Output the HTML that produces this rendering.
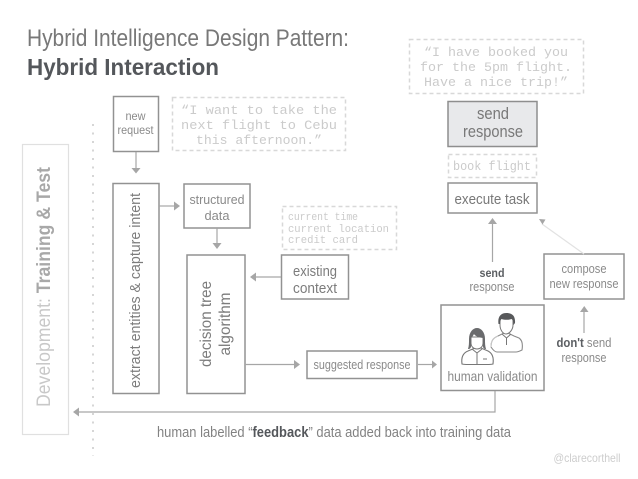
<!DOCTYPE html>
<html><head><meta charset="utf-8"><style>
html,body{margin:0;padding:0;background:#fff;width:638px;height:479px;overflow:hidden}
svg{display:block}
text{font-family:"Liberation Sans",sans-serif;fill:#8a8a8a;text-anchor:middle}
.m{font-family:"Liberation Mono",monospace;fill:#cbcbcb}
.b{fill:none;stroke:#929292;stroke-width:1.5}
.d{fill:none;stroke:#d8d8d8;stroke-width:1.5;stroke-dasharray:4 3}
.l{fill:none;stroke:#a6a6a6;stroke-width:1.2}
.a{fill:#a6a6a6}
</style></head><body>
<svg width="638" height="479" viewBox="0 0 638 479" xmlns="http://www.w3.org/2000/svg">
<text x="27" y="46" font-size="24" textLength="322" lengthAdjust="spacingAndGlyphs" style="text-anchor:start;fill:#787878">Hybrid Intelligence Design Pattern:</text>
<text x="27" y="75" font-size="23" font-weight="bold" textLength="192" lengthAdjust="spacingAndGlyphs" style="text-anchor:start;fill:#54575b">Hybrid Interaction</text>

<rect x="22.500" y="144.500" width="46" height="290" fill="none" stroke="#e0e0e0" stroke-width="1.2"/>
<text transform="translate(50,407) rotate(-90)" font-size="19" textLength="240" lengthAdjust="spacingAndGlyphs" style="text-anchor:start;fill:#c8c8c8">Development: <tspan font-weight="bold" fill="#a8a8a8">Training &amp; Test</tspan></text>
<line x1="93" y1="124" x2="93" y2="456" stroke="#d6d6d6" stroke-width="2" stroke-dasharray="2 6.500"/>

<rect class="b" x="113.500" y="96.500" width="45" height="55"/>
<text x="135.500" y="120" font-size="11.500" textLength="20" lengthAdjust="spacingAndGlyphs">new</text>
<text x="135.500" y="134" font-size="11.500" textLength="36" lengthAdjust="spacingAndGlyphs">request</text>

<rect class="d" x="172.500" y="97.500" width="173" height="53"/>
<text class="m" x="259" y="114" font-size="13" textLength="156" lengthAdjust="spacingAndGlyphs">“I want to take the</text>
<text class="m" x="259" y="129" font-size="13" textLength="156" lengthAdjust="spacingAndGlyphs">next flight to Cebu</text>
<text class="m" x="259" y="144" font-size="13" textLength="126" lengthAdjust="spacingAndGlyphs">this afternoon.”</text>

<rect class="d" x="409.500" y="39.500" width="174" height="54"/>
<text class="m" x="496" y="56" font-size="13" textLength="144" lengthAdjust="spacingAndGlyphs">“I have booked you</text>
<text class="m" x="496" y="71" font-size="13" textLength="152" lengthAdjust="spacingAndGlyphs">for the 5pm flight.</text>
<text class="m" x="496" y="86" font-size="13" textLength="144" lengthAdjust="spacingAndGlyphs">Have a nice trip!”</text>

<rect x="448" y="101.500" width="89" height="45" fill="#e8e9eb" stroke="#8e8e8e" stroke-width="1.5"/>
<text x="493" y="119" font-size="17" textLength="32" lengthAdjust="spacingAndGlyphs" style="fill:#787878">send</text>
<text x="493" y="137" font-size="17" textLength="60" lengthAdjust="spacingAndGlyphs" style="fill:#787878">response</text>

<rect class="d" x="448.500" y="154.500" width="88" height="23"/>
<text class="m" x="492" y="170" font-size="13" textLength="78" lengthAdjust="spacingAndGlyphs">book flight</text>

<rect class="b" x="448" y="183" width="89" height="30"/>
<text x="492" y="204" font-size="15" textLength="75" lengthAdjust="spacingAndGlyphs" style="fill:#787878">execute task</text>

<rect class="b" x="113" y="183.500" width="46" height="210"/>
<text transform="translate(140,388) rotate(-90)" font-size="15" textLength="195" lengthAdjust="spacingAndGlyphs" style="text-anchor:start;fill:#7c7c7c">extract entities &amp; capture intent</text>

<rect class="b" x="184" y="184" width="66" height="44"/>
<text x="217" y="204" font-size="13" textLength="55" lengthAdjust="spacingAndGlyphs">structured</text>
<text x="217" y="220" font-size="13" textLength="25" lengthAdjust="spacingAndGlyphs">data</text>

<rect class="b" x="187" y="255" width="58" height="138.500"/>
<text transform="translate(211,324) rotate(-90)" font-size="16" textLength="86" lengthAdjust="spacingAndGlyphs" style="fill:#7c7c7c">decision tree</text>
<text transform="translate(230,324) rotate(-90)" font-size="16" textLength="63" lengthAdjust="spacingAndGlyphs" style="fill:#7c7c7c">algorithm</text>

<rect class="d" x="282.500" y="206.500" width="114" height="43"/>
<text class="m" x="288" y="220" font-size="11" textLength="70" lengthAdjust="spacingAndGlyphs" style="text-anchor:start">current time</text>
<text class="m" x="288" y="232" font-size="11" textLength="101" lengthAdjust="spacingAndGlyphs" style="text-anchor:start">current location</text>
<text class="m" x="288" y="243" font-size="11" textLength="70" lengthAdjust="spacingAndGlyphs" style="text-anchor:start">credit card</text>

<rect class="b" x="281.500" y="255" width="67" height="44"/>
<text x="315" y="276" font-size="15" textLength="44" lengthAdjust="spacingAndGlyphs" style="fill:#7c7c7c">existing</text>
<text x="315" y="293" font-size="15" textLength="44" lengthAdjust="spacingAndGlyphs" style="fill:#7c7c7c">context</text>

<rect class="b" x="307" y="351" width="110" height="27.500"/>
<text x="362" y="369" font-size="12.500" textLength="97" lengthAdjust="spacingAndGlyphs">suggested response</text>

<rect class="b" x="441" y="305" width="103" height="85.500"/>
<text x="492.500" y="381" font-size="14" textLength="90" lengthAdjust="spacingAndGlyphs">human validation</text>

<!-- man -->
<path d="M491 347c0-6 2-9 7-11l6-3h4l6 3 5 2c3 2 4 6 3 12-2 1-4 2-6 2h-19c-2 0-4-2-6-5z" fill="#fff" stroke="#8a8a8a" stroke-width="1.100"/>
<path d="M491 347c0-6 2-9 7-11" fill="none" stroke="#c8c8c8" stroke-width="1.100"/>
<path d="M500 318v7c0 5 3 9 6 9s7-4 7-9v-7z" fill="#fff" stroke="#777" stroke-width="1"/>
<path d="M498.500 324c-1-7 2-11 8-11 6 0 9 3 8.500 10l-1.500 2c0-3-.500-5-2-6-3 1-7 1-10 0-1 1-1.500 3-1.500 5z" fill="#58595b"/>
<path d="M502 334l4.500 4 4.500-4M506.500 338v7" fill="none" stroke="#777" stroke-width="1"/>
<!-- woman -->
<path d="M462 364c-1-7 1-11 6-13l7-3h6l7 3c4 2 6 6 5 13-2 .500-4 .500-6 .500h-19c-2 0-4 0-6-.500z" fill="#fff" stroke="#777" stroke-width="1.100"/>
<path d="M471 337v6c0 4 3 6 6 6s6-2 6-6v-6z" fill="#fff" stroke="#777" stroke-width="1"/>
<path d="M468 349c1-3 1-6 1-10 0-7 4-11 8-11s8 4 8 11c0 4 0 7 1 10-2 0-3-1-3-3v-8c-4-.500-8-2-9-4-1 2-2 3-3 4v8c0 2-1 3-3 3z" fill="#6a6b6d"/>
<path d="M472 349l5 4 5-4M477 353v11M483 359h4" fill="none" stroke="#777" stroke-width="1"/>

<rect class="b" x="544" y="254" width="80" height="45"/>
<text x="584" y="273" font-size="12.500" textLength="45" lengthAdjust="spacingAndGlyphs">compose</text>
<text x="584" y="288" font-size="12.500" textLength="69" lengthAdjust="spacingAndGlyphs">new response</text>

<text x="492" y="277" font-size="12" font-weight="bold" textLength="25" lengthAdjust="spacingAndGlyphs" style="fill:#5c5f63">send</text>
<text x="492" y="291" font-size="12.500" textLength="45" lengthAdjust="spacingAndGlyphs">response</text>

<text x="584" y="347" font-size="12.500" textLength="55" lengthAdjust="spacingAndGlyphs"><tspan font-weight="bold" fill="#5c5f63">don't</tspan> send</text>
<text x="584" y="362" font-size="12.500" textLength="45" lengthAdjust="spacingAndGlyphs">response</text>

<text x="334" y="437" font-size="14.500" textLength="354" lengthAdjust="spacingAndGlyphs" style="fill:#828282">human labelled “<tspan font-weight="bold" fill="#54575b">feedback</tspan>” data added back into training data</text>
<text x="587" y="462" font-size="12" textLength="67" lengthAdjust="spacingAndGlyphs" style="fill:#cdcdcd">@clarecorthell</text>

<!-- connectors -->
<path class="l" d="M136 152V168"/><path class="a" d="M131.500 168h9l-4.500 5.500z"/>
<path class="l" d="M159 206H174"/><path class="a" d="M174 201.500v9l6-4.500z"/>
<path class="l" d="M217 228V243"/><path class="a" d="M212.500 243h9l-4.500 6z"/>
<path class="l" d="M281 277H256"/><path class="a" d="M256 272.500v9l-6-4.500z"/>
<path class="l" d="M245 364.500H294"/><path class="a" d="M294 360v9l6-4.500z"/>
<path class="l" d="M418 364.500H432"/><path class="a" d="M432 360.500v8l5-4z"/>
<path class="l" d="M495 391V412H79"/><path class="a" d="M79 407.500v9l-6-4.500z"/>
<path class="l" d="M492.500 262V224"/><path class="a" d="M488 224h9l-4.500-6z"/>
<path class="a" d="M580 312h8.500l-4.250-6z"/><path class="l" d="M584 312V333" stroke-width="1.500"/>
<path d="M584 254L542 224" stroke="#e2e2e2" stroke-width="1.200" fill="none"/><path class="a" d="M539 219l6.500.500-3 5z"/>
</svg>
</body></html>
